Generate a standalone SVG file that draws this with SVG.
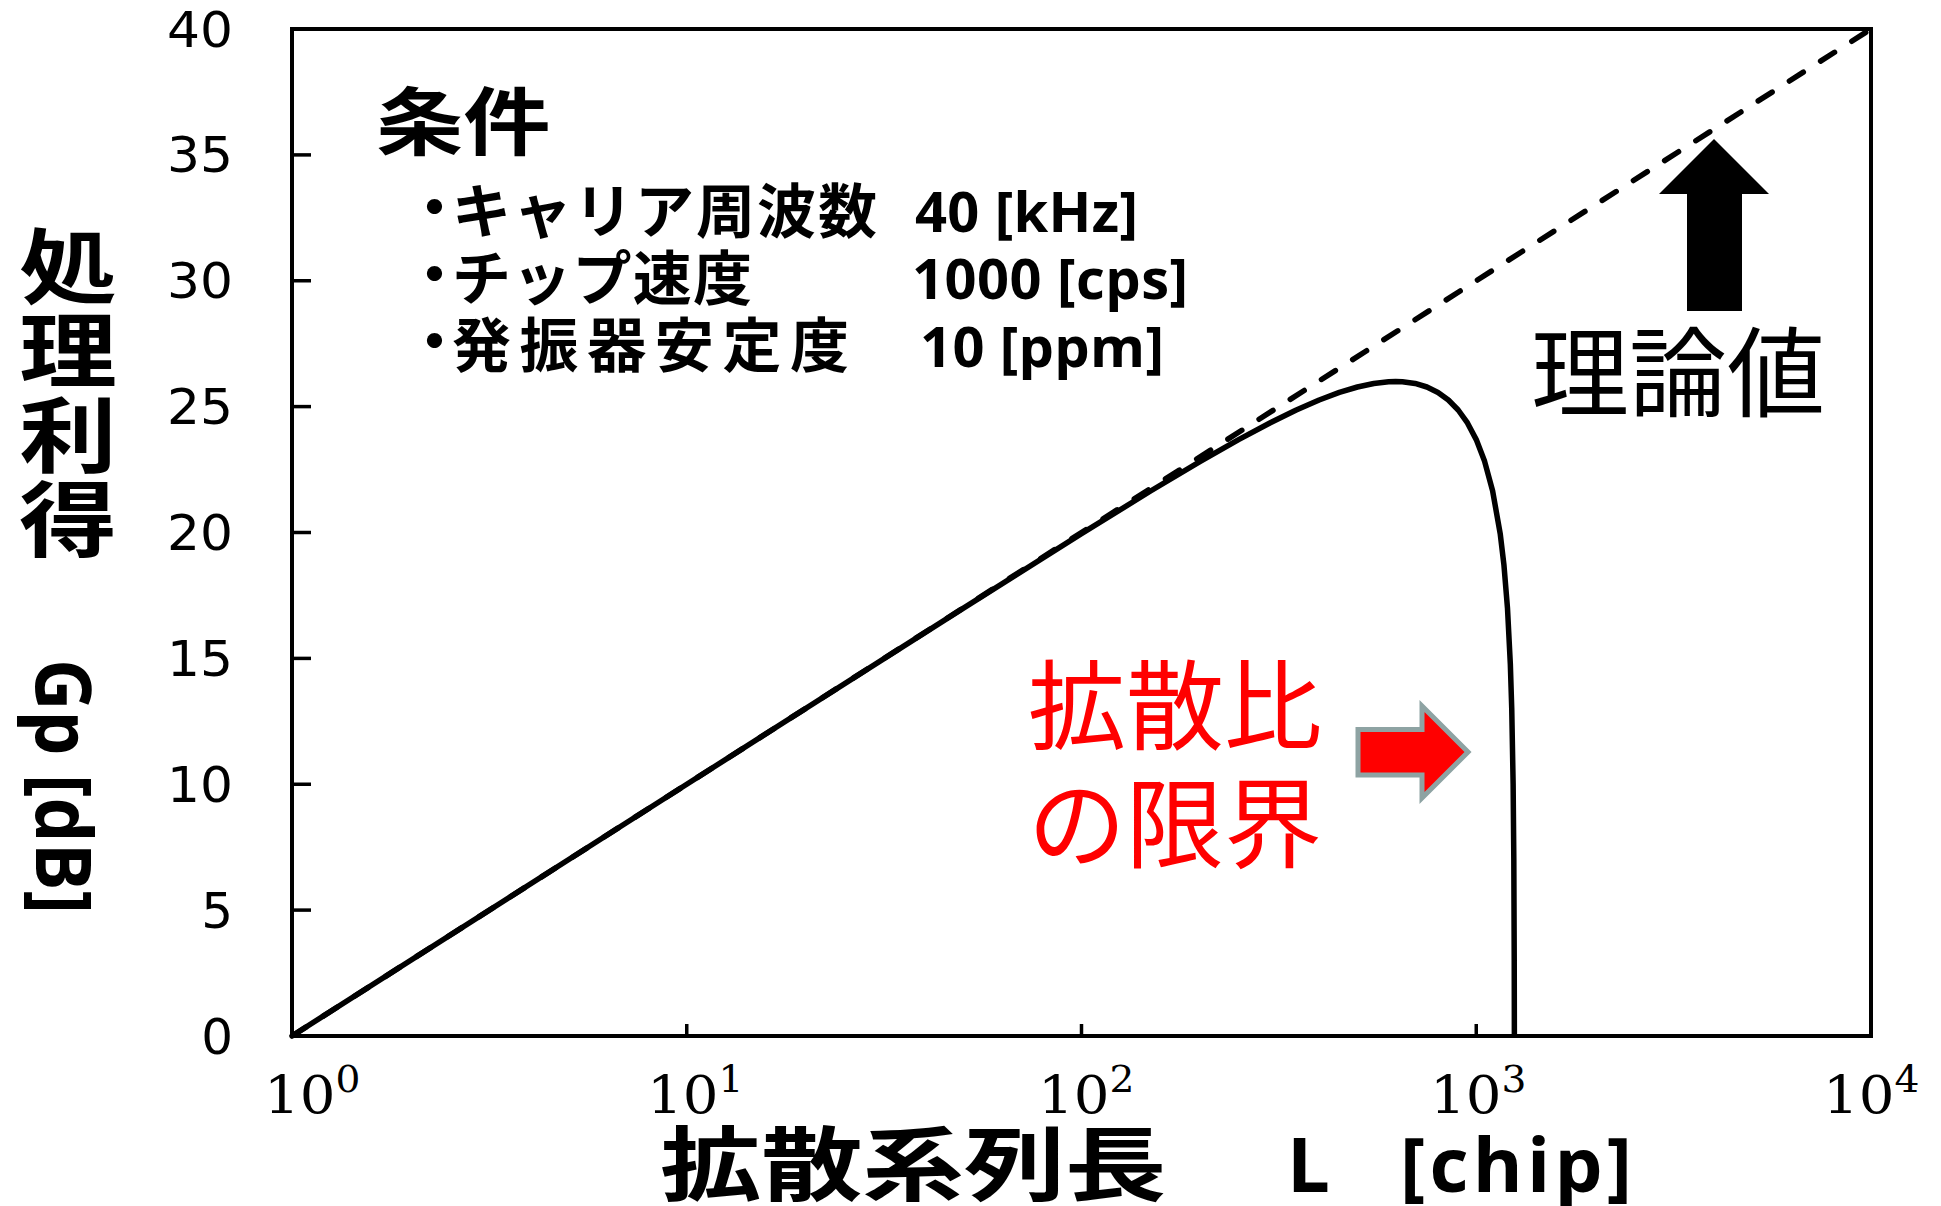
<svg xmlns="http://www.w3.org/2000/svg" width="1941" height="1206" viewBox="0 0 1941 1206">
<style>
.ty{font-family:"DejaVu Sans",sans-serif;font-size:50px;text-anchor:end;fill:#000}
.tx{font-family:"DejaVu Serif","Liberation Serif",serif;font-size:53px;fill:#000}
.jb{font-family:"Noto Sans CJK JP",sans-serif;font-weight:700;fill:#000}
.jr{font-family:"Noto Sans CJK JP",sans-serif;font-weight:400}
.lb{font-family:"Open Sans","Noto Sans",sans-serif;font-weight:700;fill:#000}
.tick{stroke:#000;stroke-width:3.5;fill:none}
</style>
<rect width="1941" height="1206" fill="#fff"/>
<g id="frame">
<rect x="292" y="29" width="1579" height="1007" fill="none" stroke="#000" stroke-width="4"/>
</g>
<g id="ticks" class="tick">
<line x1="292" y1="910.1" x2="311" y2="910.1"/>
<line x1="292" y1="784.25" x2="311" y2="784.25"/>
<line x1="292" y1="658.4" x2="311" y2="658.4"/>
<line x1="292" y1="532.5" x2="311" y2="532.5"/>
<line x1="292" y1="406.6" x2="311" y2="406.6"/>
<line x1="292" y1="280.75" x2="311" y2="280.75"/>
<line x1="292" y1="154.9" x2="311" y2="154.9"/>
<line x1="686.75" y1="1036" x2="686.75" y2="1024"/>
<line x1="1081.5" y1="1036" x2="1081.5" y2="1024"/>
<line x1="1476.25" y1="1036" x2="1476.25" y2="1024"/>
</g>
<g id="y-tick-labels">
<text class="ty" x="233" y="46.5" textLength="66" lengthAdjust="spacingAndGlyphs">40</text>
<text class="ty" x="233" y="172.4" textLength="66" lengthAdjust="spacingAndGlyphs">35</text>
<text class="ty" x="233" y="298.2" textLength="66" lengthAdjust="spacingAndGlyphs">30</text>
<text class="ty" x="233" y="424.1" textLength="66" lengthAdjust="spacingAndGlyphs">25</text>
<text class="ty" x="233" y="550" textLength="66" lengthAdjust="spacingAndGlyphs">20</text>
<text class="ty" x="233" y="675.9" textLength="66" lengthAdjust="spacingAndGlyphs">15</text>
<text class="ty" x="233" y="801.7" textLength="66" lengthAdjust="spacingAndGlyphs">10</text>
<text class="ty" x="233" y="927.6">5</text>
<text class="ty" x="233" y="1053.5">0</text>
</g>
<g id="x-tick-labels">
<text class="tx" transform="translate(264,1113) scale(1.06,1)">10<tspan dy="-21" font-size="37">0</tspan></text>
<text class="tx" transform="translate(647,1113) scale(1.06,1)">10<tspan dy="-21" font-size="37">1</tspan></text>
<text class="tx" transform="translate(1038,1113) scale(1.06,1)">10<tspan dy="-21" font-size="37">2</tspan></text>
<text class="tx" transform="translate(1430,1113) scale(1.06,1)">10<tspan dy="-21" font-size="37">3</tspan></text>
<text class="tx" transform="translate(1823,1113) scale(1.06,1)">10<tspan dy="-21" font-size="37">4</tspan></text>
</g>
<g id="y-axis-title">
<text class="jb" font-size="82" text-anchor="middle" transform="translate(68,0) scale(1.19,1)"><tspan x="0" y="297">処</tspan><tspan x="0" y="381.5">理</tspan><tspan x="0" y="466">利</tspan><tspan x="0" y="550.5">得</tspan></text>
<text class="lb" font-size="77" transform="translate(36,659) rotate(90)" textLength="255" lengthAdjust="spacingAndGlyphs">Gp [dB]</text>
</g>
<g id="x-axis-title">
<text class="jb" font-size="81" transform="translate(660,1194) scale(1.25,1)">拡散系列長</text>
<text class="lb" font-size="76" x="1287" y="1192">L</text>
<text class="lb" font-size="76" x="1400" y="1192" textLength="232">[chip]</text>
</g>
<g id="curves" fill="none" stroke="#000">
<line id="theory" x1="292" y1="1036" x2="1871" y2="29" stroke-width="5.5" stroke-linecap="round" stroke-dasharray="16.5 20.5"/>
<polyline id="limited" stroke-width="5.5" stroke-linejoin="round" points="292,1036 686.75,784.26 962.67,608.58 1081.5,533.66 1151.01,490.77 1200.33,461.36 1238.59,439.61 1269.85,422.95 1296.27,410.02 1319.16,400.01 1339.36,392.45 1357.42,387 1373.76,383.46 1388.68,381.73 1395.67,381.51 1402.4,381.73 1415.1,383.46 1426.93,387 1438,392.45 1448.39,400.01 1458.19,410.02 1467.46,422.95 1476.25,439.61 1484.61,461.36 1492.59,490.77 1500.21,533.66 1503.9,564.6 1507.51,608.57 1510.34,664.24 1511.74,708.51 1513.13,784.27 1513.82,860.03 1514.23,960.21 1514.37,1036"/>
</g>
<g id="conditions">
<text class="jb" font-size="74" transform="translate(376,149) scale(1.18,1)">条件</text>
<text class="jb" font-size="59" x="405" y="229">・</text>
<text class="jb" font-size="59" x="452" y="233" textLength="425">キャリア周波数</text>
<text class="lb" font-size="56" x="915" y="232" textLength="223">40 [kHz]</text>
<text class="jb" font-size="59" x="405" y="296">・</text>
<text class="jb" font-size="59" x="452" y="300" textLength="300">チップ速度</text>
<text class="lb" font-size="56" x="912" y="299" textLength="276">1000 [cps]</text>
<text class="jb" font-size="59" x="405" y="363">・</text>
<text class="jb" font-size="59" x="452" y="367" textLength="397">発振器安定度</text>
<text class="lb" font-size="56" x="920" y="367" textLength="244">10 [ppm]</text>
</g>
<g id="theory-label">
<polygon points="1714,139 1769,194 1742,194 1742,311 1687,311 1687,194 1659,194" fill="#000"/>
<text class="jr" font-size="98" x="1531" y="409" fill="#000">理論値</text>
</g>
<g id="limit-label">
<text class="jr" font-size="98" fill="#f00"><tspan x="1028" y="742">拡散比</tspan><tspan x="1028" y="860">の限界</tspan></text>
<polygon points="1358,729.5 1422,729.5 1422,706 1468,752 1422,798 1422,775 1358,775" fill="#f00" stroke="#8ea3a3" stroke-width="5"/>
</g>
</svg>
